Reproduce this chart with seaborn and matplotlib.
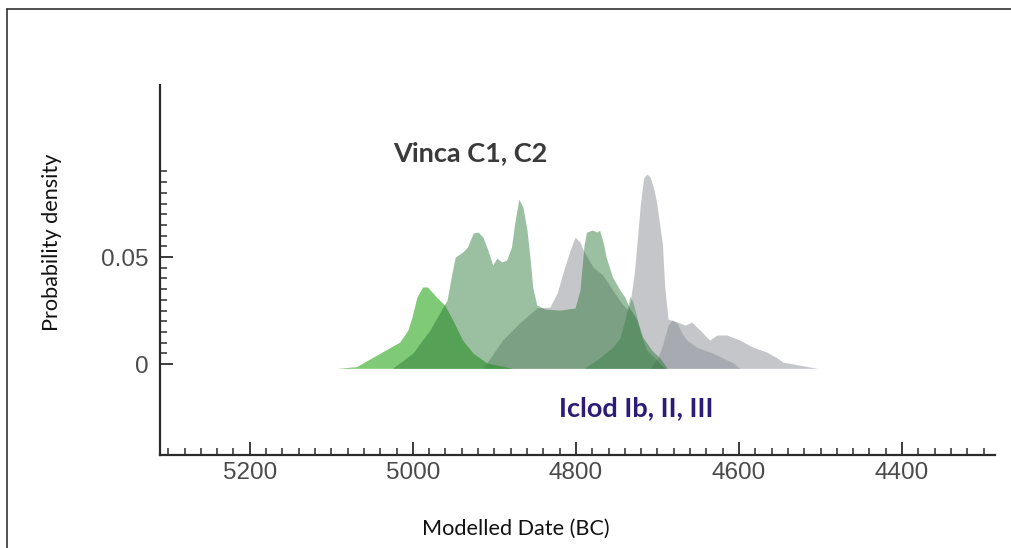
import numpy as np
import matplotlib
matplotlib.use("Agg")
import matplotlib.pyplot as plt
import seaborn as sns
from matplotlib.lines import Line2D
from matplotlib.ticker import FixedLocator

# modelled date (BC) and probability density
iclod_ib_years = [5093, 5069, 5040, 5016, 5006, 5001, 4995, 4988, 4982, 4971,
                  4961, 4951, 4939, 4926, 4909, 4877]
iclod_ib_dens = [-0.002, -0.0012, 0.0051, 0.0103, 0.0159, 0.022, 0.0313, 0.036,
                 0.036, 0.0313, 0.0276, 0.0206, 0.0112, 0.0051, 0.0005, -0.002]

iclod_ii_years = [5025, 5000, 4979, 4963, 4958, 4952, 4948, 4939, 4933, 4926,
                  4920, 4914, 4908, 4902, 4897, 4891, 4885, 4879, 4875, 4870,
                  4865, 4860, 4856, 4853, 4848, 4838, 4820, 4801, 4795, 4790,
                  4787, 4780, 4774, 4771, 4766, 4763, 4755, 4746, 4740, 4734,
                  4725, 4718, 4707, 4697, 4688]
iclod_ii_dens = [-0.002, 0.0051, 0.0159, 0.0266, 0.0299, 0.0425, 0.05, 0.0523,
                 0.0547, 0.0612, 0.0617, 0.0593, 0.0533, 0.0463, 0.0495, 0.0477,
                 0.0486, 0.0547, 0.0659, 0.0771, 0.0734, 0.0626, 0.0486, 0.036,
                 0.0276, 0.0257, 0.0252, 0.0262, 0.0346, 0.0556, 0.0617, 0.0626,
                 0.0617, 0.0626, 0.056, 0.0500, 0.0406, 0.0346, 0.0313, 0.0260,
                 0.0206, 0.0126, 0.0065, 0.0028, -0.002]

iclod_iii_years = [4790, 4771, 4755, 4746, 4740, 4736, 4734, 4730, 4726, 4721,
                   4713, 4701, 4691]
iclod_iii_dens = [-0.002, 0.0028, 0.0079, 0.0121, 0.0206, 0.0276, 0.0318, 0.029,
                  0.0229, 0.0145, 0.0065, 0.0019, -0.002]

vinca_c1_years = [4914, 4890, 4869, 4848, 4832, 4823, 4816, 4807, 4801, 4795,
                  4791, 4779, 4767, 4755, 4744, 4736, 4733, 4728, 4721, 4717,
                  4713, 4709, 4704, 4701, 4694, 4691, 4687, 4675, 4666, 4658,
                  4648, 4636, 4627, 4615, 4599, 4583, 4566, 4553, 4546, 4504]
vinca_c1_dens = [-0.002, 0.0112, 0.0192, 0.0262, 0.0266, 0.0332, 0.0425, 0.0533,
                 0.0593, 0.057, 0.0533, 0.0453, 0.0416, 0.0346, 0.0285, 0.0252,
                 0.0299, 0.0439, 0.0743, 0.0869, 0.0888, 0.0874, 0.0813, 0.0752,
                 0.0565, 0.036, 0.021, 0.0196, 0.0182, 0.0196, 0.0159, 0.0112,
                 0.0136, 0.0136, 0.0112, 0.0079, 0.0056, 0.0028, 0.0009, -0.002]

vinca_c2_years = [4709, 4699, 4693, 4687, 4682, 4676, 4670, 4664, 4652, 4632,
                  4607, 4599]
vinca_c2_dens = [-0.002, 0.0033, 0.0098, 0.0182, 0.0206, 0.0192, 0.0145, 0.0112,
                 0.0079, 0.0051, 0.0005, -0.002]

x_major = [5200, 5000, 4800, 4600, 4400]
y_major = [0, 0.05]
y_major_labels = ["0", "0.05"]

BASE = -0.002

sns.set_theme(style="white")
plt.rcParams["font.family"] = ["Liberation Sans", "DejaVu Sans"]

fig = plt.figure(figsize=(10.11, 5.48), dpi=100)
ax = fig.add_axes([0.1583, 0.1697, 0.8259, 0.6752])

# grey first, greens on top so the overlaps darken like the original
layers = [
    (vinca_c1_years, vinca_c1_dens, "#8b8f97", 0.5),
    (vinca_c2_years, vinca_c2_dens, "#8b8f97", 0.5),
    (iclod_ib_years, iclod_ib_dens, "#2aa71c", 0.6),
    (iclod_ii_years, iclod_ii_dens, "#23732f", 0.45),
    (iclod_iii_years, iclod_iii_dens, "#23732f", 0.35),
]
for xs, ys, col, a in layers:
    ax.fill_between(xs, ys, BASE, color=col, alpha=a, linewidth=0)

ax.set_xlim(5310, 4286)
ax.set_ylim(-0.0425, 0.1304)

sns.despine(ax=ax)
for side in ["left", "bottom"]:
    ax.spines[side].set_color("#2b2b2b")
    ax.spines[side].set_linewidth(1.6)

ax.set_xticks(x_major)
ax.set_xticklabels([str(v) for v in x_major])
ax.xaxis.set_minor_locator(FixedLocator(np.arange(4300, 5301, 20)))
ax.set_yticks(y_major)
ax.set_yticklabels(y_major_labels)
ax.yaxis.set_minor_locator(FixedLocator(np.arange(0, 0.0901, 0.005)))

ax.tick_params(axis="both", which="both", bottom=True, left=True,
               top=False, right=False)
ax.tick_params(axis="both", which="major", direction="in", length=9.5,
               width=1.3, color="#2b2b2b", labelsize=17.5, labelcolor="#4a4a4a")
ax.tick_params(axis="both", which="minor", direction="in", length=4.8,
               width=1.1, color="#2b2b2b")
ax.tick_params(axis="y", which="major", pad=8.5)
ax.tick_params(axis="x", which="major", pad=5)
ax.set_xlabel("")
ax.set_ylabel("")

ax.text(4930, 0.0985, "Vinca C1, C2", ha="center", va="center", fontsize=19.5,
        fontweight="bold", color="#3a3a3a", family=["Lato", "DejaVu Sans"])
ax.text(4726, -0.0206, "Iclod Ib, II, III", ha="center", va="center",
        fontsize=19.5, fontweight="bold", color="#2d1b78",
        family=["Lato", "DejaVu Sans"])

fig.text(52 / 1011, 1 - 242 / 548, "Probability density", rotation=90,
         ha="center", va="center", fontsize=15.6, color="#111111",
         family=["Lato", "DejaVu Sans"])
fig.text(516 / 1011, 1 - 529 / 548, "Modelled Date (BC)", ha="center",
         va="center", fontsize=15.6, color="#111111",
         family=["Lato", "DejaVu Sans"])

# outer frame (top and left edges are visible in the reference)
fig.add_artist(Line2D([7 / 1011, 1.0], [1 - 9 / 548, 1 - 9 / 548],
                      transform=fig.transFigure, color="#333333", linewidth=1.2))
fig.add_artist(Line2D([7 / 1011, 7 / 1011], [0.0, 1 - 9 / 548],
                      transform=fig.transFigure, color="#333333", linewidth=1.2))

fig.savefig("out.png", dpi=100)
